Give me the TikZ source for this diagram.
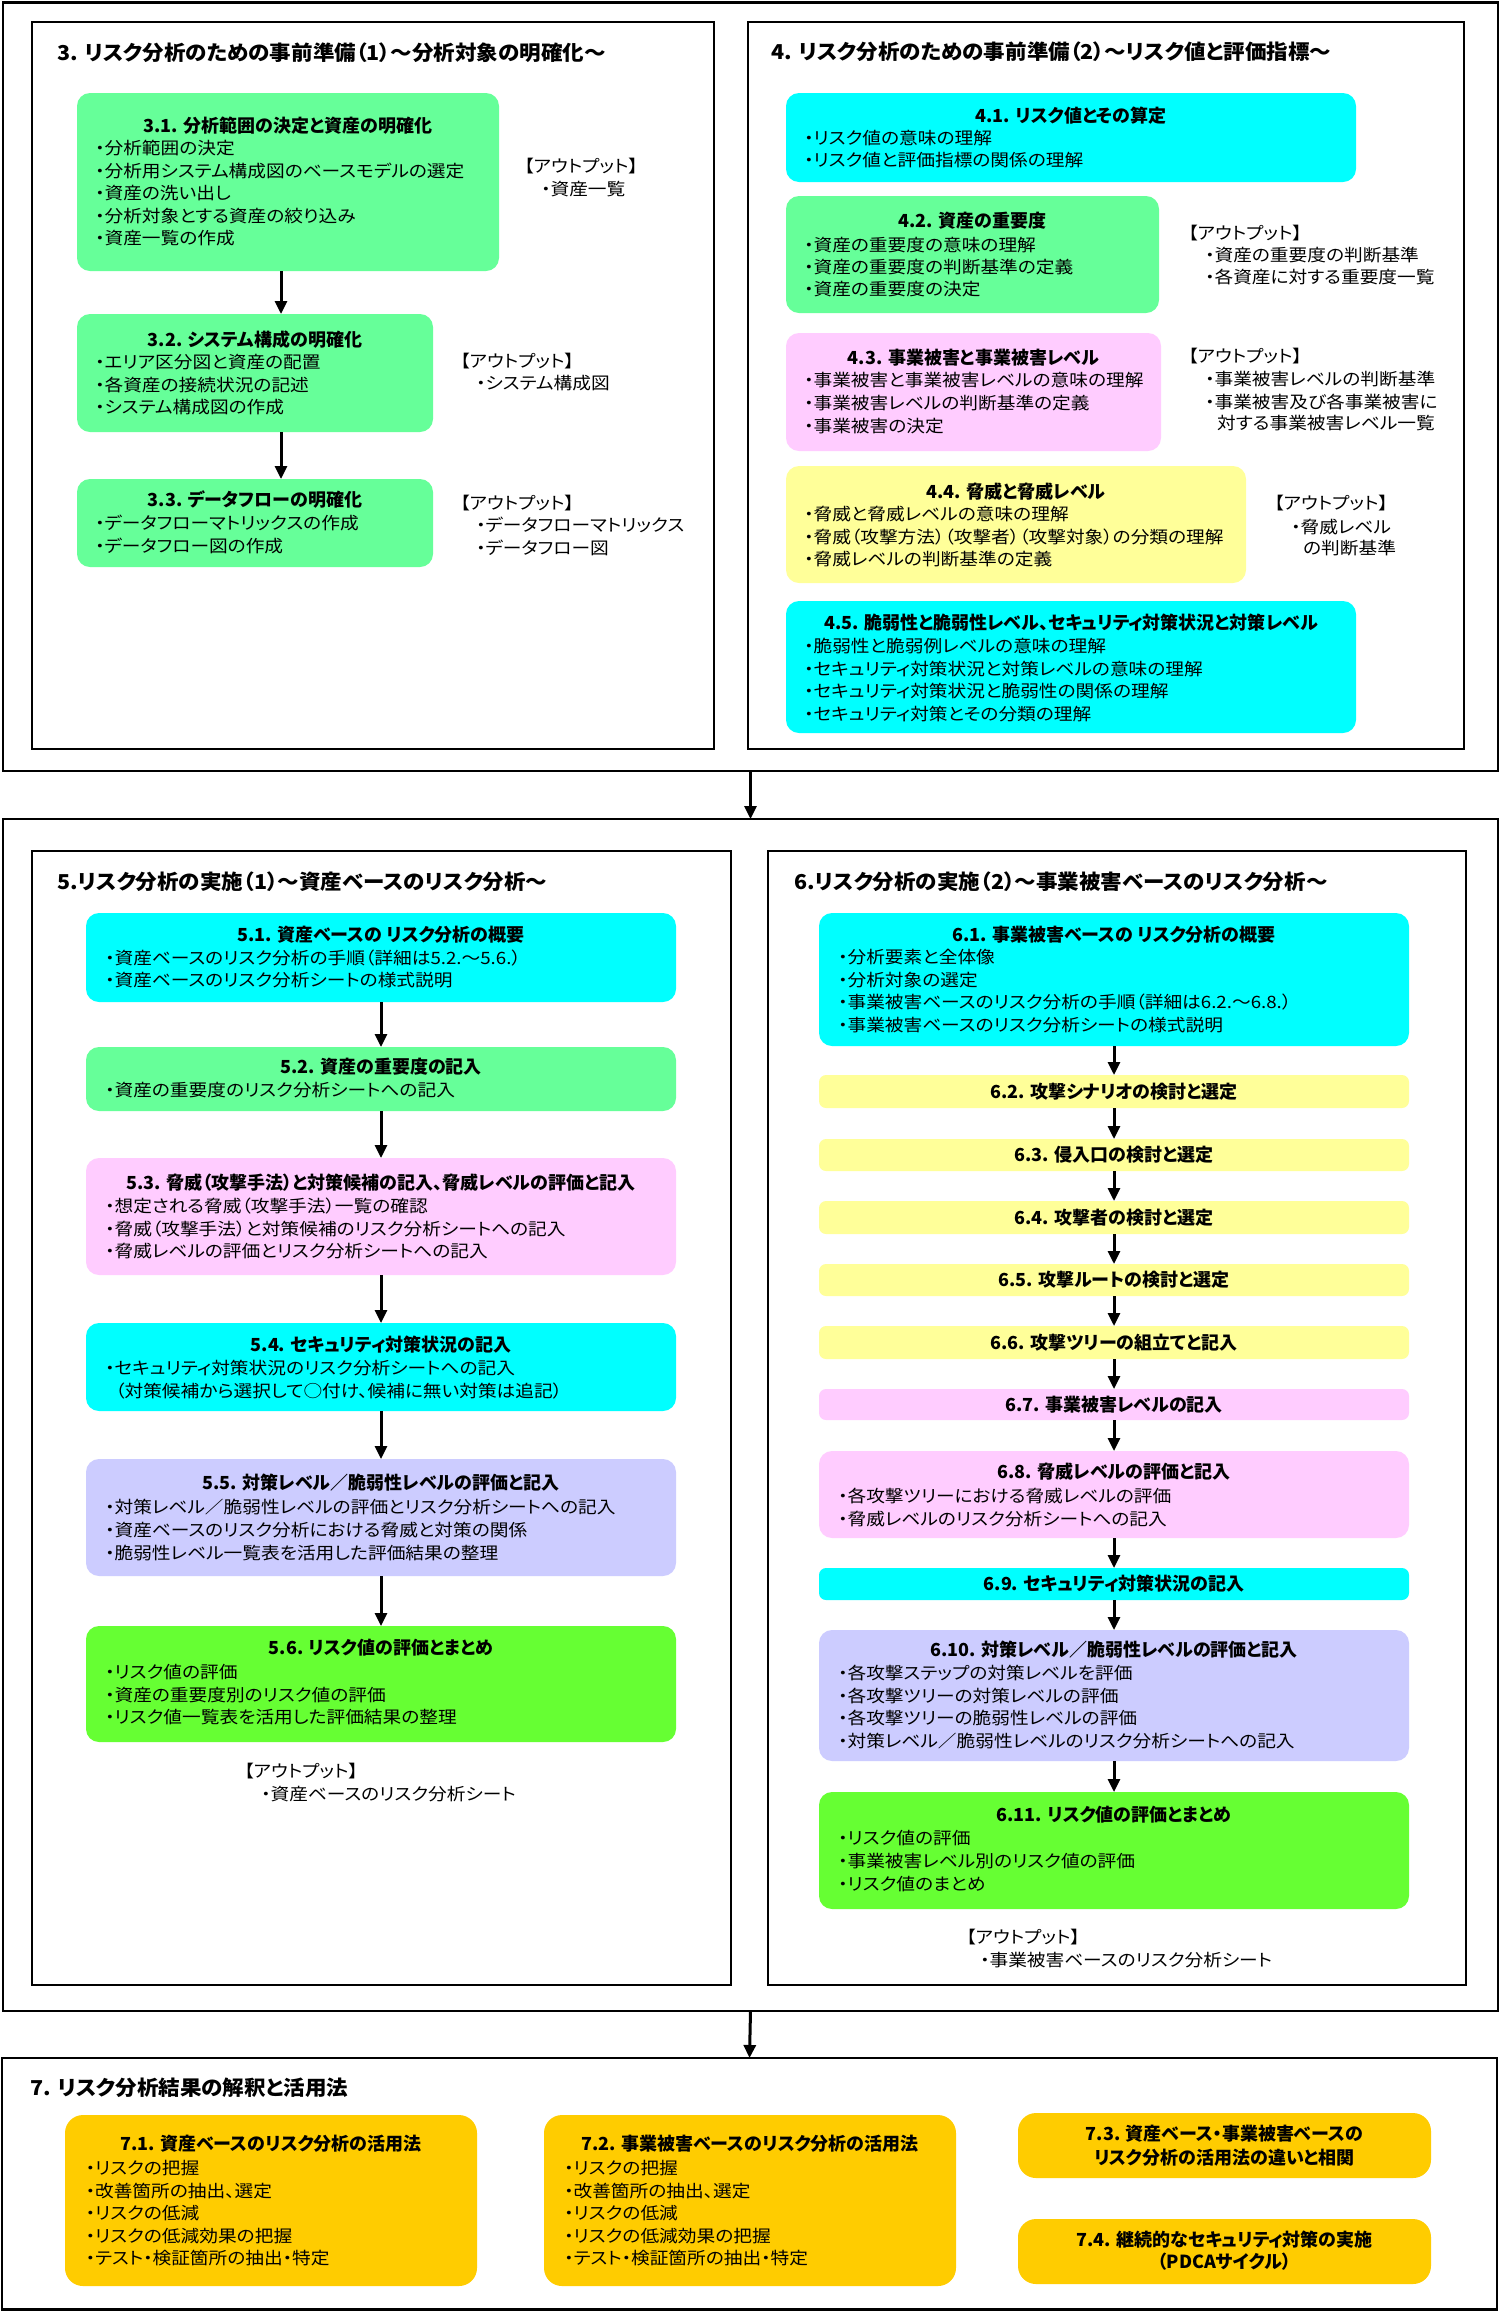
\documentclass[tikz,border=0pt]{standalone}
\usepackage{fontspec}
\setmainfont{Noto Sans CJK JP}[RawFeature=+palt]
\newfontfamily\itmfont{Noto Sans CJK JP}[RawFeature=+palt,FakeStretch=1.1]
\newfontfamily\secfont{Noto Sans CJK JP}[RawFeature=+palt,FakeStretch=1.05]
\usetikzlibrary{arrows.meta}
\definecolor{cgreen}{HTML}{66FF99}
\definecolor{ccyan}{HTML}{00FFFF}
\definecolor{cpink}{HTML}{FFCCFF}
\definecolor{cyellow}{HTML}{FFFF99}
\definecolor{clav}{HTML}{CCCCFF}
\definecolor{cbgreen}{HTML}{66FF33}
\definecolor{corange}{HTML}{FFCC00}
\tikzset{
  frm/.style={draw=black, line width=2pt, inner sep=0pt, outer sep=0pt},
  ofrm/.style={frm, line width=2.5pt},
  boxs/.style={draw=none, rounded corners=13pt, inner sep=0pt, outer sep=0pt},
  smallbox/.style={rounded corners=7pt},
  bigbox/.style={rounded corners=18pt},
  itm/.style={font=\itmfont\fontsize{17}{20}\selectfont, anchor=west, inner sep=0pt, text height=15pt, text depth=2pt},
  ttl/.style={font=\fontsize{18}{21}\selectfont\bfseries, anchor=center, inner sep=0pt, text height=15.8pt, text depth=2.2pt},
  sttl/.style={font=\secfont\fontsize{20.5}{24}\selectfont\bfseries, anchor=west, inner sep=0pt, text height=18pt, text depth=2.5pt},
  arr/.style={line width=3pt, -{Triangle[length=13pt,width=12pt]}}
}
\newcommand\mkbox[7]{\node[boxs,#7,fill=#6,minimum width={#4pt-#2pt},minimum height={#5pt-#3pt}] (#1) at ({(#2+#4)/2},{(#3+#5)/2}) {};}
\newcommand\mkframe[6]{\node[#6,minimum width={#4pt-#2pt},minimum height={#5pt-#3pt}] (#1) at ({(#2+#4)/2},{(#3+#5)/2}) {};}
\newcommand\mklines[5]{\foreach \tx [count=\k from 0] in {#5}{\node[itm] (#1\k) at (#2,{#3+\k*#4}) {\tx};}}
\begin{document}
\begin{tikzpicture}[x=1pt,y=-1pt]
\fill[white] (0,0) rectangle (1501,2311);
\useasboundingbox (0,0) rectangle (1501,2311);

% outer frames
\mkframe{fr1}{3}{2.5}{1498}{771}{ofrm}
\mkframe{fr2}{3}{819}{1498}{2011}{ofrm}
\mkframe{fr3}{2}{2058}{1497}{2309.5}{ofrm}
\draw[arr] (fr1.south) -- (fr2.north);
\draw[arr] (fr2.south) -- (fr3.north);

% section frames
\mkframe{sec3}{32}{22}{714}{749}{frm}
\mkframe{sec4}{748}{22}{1464}{749}{frm}
\mkframe{sec5}{32}{851}{731}{1985}{frm}
\mkframe{sec6}{768}{851}{1466}{1985}{frm}

% ---------- section 3
\node[sttl] (st3) at (57,53) {3. リスク分析のための事前準備（1）～分析対象の明確化～};
\mkbox{b31}{77}{93}{499}{271}{cgreen}{}
\mkbox{b32}{77}{314}{433}{432}{cgreen}{}
\mkbox{b33}{77}{479}{433}{567}{cgreen}{}
\node[ttl] (t31) at (288,126) {3.1. 分析範囲の決定と資産の明確化};
\mklines{i31-}{95}{148}{22.5}{・分析範囲の決定,・分析用システム構成図のベースモデルの選定,・資産の洗い出し,・分析対象とする資産の絞り込み,・資産一覧の作成}
\node[ttl] (t32) at (255,340) {3.2. システム構成の明確化};
\mklines{i32-}{95}{362}{22.5}{・エリア区分図と資産の配置,・各資産の接続状況の記述,・システム構成図の作成}
\node[ttl] (t33) at (255,500) {3.3. データフローの明確化};
\mklines{i33-}{95}{523}{22.5}{・データフローマトリックスの作成,・データフロー図の作成}
\node[itm] (o31a) at (524,166) {【アウトプット】};
\node[itm] (o31b) at (541,189) {・資産一覧};
\node[itm] (o32a) at (460,361) {【アウトプット】};
\node[itm] (o32b) at (476,383) {・システム構成図};
\node[itm] (o33a) at (460,503) {【アウトプット】};
\node[itm] (o33b) at (476,525) {・データフローマトリックス};
\node[itm] (o33c) at (476,548) {・データフロー図};
\coordinate (ax3) at (281,0);
\draw[arr] (b31.south -| ax3) -- (b32.north -| ax3);
\draw[arr] (b32.south -| ax3) -- (b33.north -| ax3);

% ---------- section 4
\node[sttl] (st4) at (771,52) {4. リスク分析のための事前準備（2）～リスク値と評価指標～};
\mkbox{b41}{786}{93}{1356}{182}{ccyan}{}
\mkbox{b42}{786}{196}{1159}{313}{cgreen}{}
\mkbox{b43}{786}{333}{1161}{451}{cpink}{}
\mkbox{b44}{786}{466}{1246}{583}{cyellow}{}
\mkbox{b45}{786}{601}{1356}{733}{ccyan}{}
\node[ttl] (t41) at (1071,116) {4.1. リスク値とその算定};
\mklines{i41-}{804}{138}{22}{・リスク値の意味の理解,・リスク値と評価指標の関係の理解}
\node[ttl] (t42) at (972.5,221) {4.2. 資産の重要度};
\mklines{i42-}{804}{245}{22}{・資産の重要度の意味の理解,・資産の重要度の判断基準の定義,・資産の重要度の決定}
\node[ttl] (t43) at (973.5,358) {4.3. 事業被害と事業被害レベル};
\mklines{i43-}{804}{380}{23}{・事業被害と事業被害レベルの意味の理解,・事業被害レベルの判断基準の定義,・事業被害の決定}
\node[ttl] (t44) at (1016,492) {4.4. 脅威と脅威レベル};
\mklines{i44-}{804}{514}{22.5}{・脅威と脅威レベルの意味の理解,・脅威（攻撃方法）（攻撃者）（攻撃対象）の分類の理解,・脅威レベルの判断基準の定義}
\node[ttl] (t45) at (1071,623) {4.5. 脆弱性と脆弱性レベル、セキュリティ対策状況と対策レベル};
\mklines{i45-}{804}{646}{22.5}{・脆弱性と脆弱例レベルの意味の理解,・セキュリティ対策状況と対策レベルの意味の理解,・セキュリティ対策状況と脆弱性の関係の理解,・セキュリティ対策とその分類の理解}
\node[itm] (o42a) at (1188,233) {【アウトプット】};
\node[itm] (o42b) at (1205,255) {・資産の重要度の判断基準};
\node[itm] (o42c) at (1205,277) {・各資産に対する重要度一覧};
\node[itm] (o43a) at (1188,356) {【アウトプット】};
\node[itm] (o43b) at (1205,379) {・事業被害レベルの判断基準};
\node[itm] (o43c) at (1205,402) {・事業被害及び各事業被害に};
\node[itm] (o43d) at (1217,423) {対する事業被害レベル一覧};
\node[itm] (o44a) at (1274,503) {【アウトプット】};
\node[itm] (o44b) at (1291,527) {・脅威レベル};
\node[itm] (o44c) at (1303,548) {の判断基準};

% ---------- section 5
\node[sttl] (st5) at (57,882) {5.リスク分析の実施（1）～資産ベースのリスク分析～};
\mkbox{b51}{86}{913}{676}{1002}{ccyan}{}
\mkbox{b52}{86}{1047}{676}{1111}{cgreen}{}
\mkbox{b53}{86}{1158}{676}{1275}{cpink}{}
\mkbox{b54}{86}{1323}{676}{1411}{ccyan}{}
\mkbox{b55}{86}{1459}{676}{1576}{clav}{}
\mkbox{b56}{86}{1626}{676}{1742}{cbgreen}{}
\node[ttl] (t51) at (381,935) {5.1. 資産ベースの リスク分析の概要};
\mklines{i51-}{105}{958}{22}{・資産ベースのリスク分析の手順（詳細は5.2.～5.6.）,・資産ベースのリスク分析シートの様式説明}
\node[ttl] (t52) at (381,1067) {5.2. 資産の重要度の記入};
\mklines{i52-}{105}{1090}{22}{・資産の重要度のリスク分析シートへの記入}
\node[ttl] (t53) at (381,1183) {5.3. 脅威（攻撃手法）と対策候補の記入、脅威レベルの評価と記入};
\mklines{i53-}{105}{1206}{22.5}{・想定される脅威（攻撃手法）一覧の確認,・脅威（攻撃手法）と対策候補のリスク分析シートへの記入,・脅威レベルの評価とリスク分析シートへの記入}
\node[ttl] (t54) at (381,1345) {5.4. セキュリティ対策状況の記入};
\node[itm] (i54a) at (105,1368) {・セキュリティ対策状況のリスク分析シートへの記入};
\node[itm] (i54b) at (115,1390.5) {（対策候補から選択して○付け、候補に無い対策は追記）};
\node[ttl] (t55) at (381,1483) {5.5. 対策レベル／脆弱性レベルの評価と記入};
\mklines{i55-}{105}{1507}{23}{・対策レベル／脆弱性レベルの評価とリスク分析シートへの記入,・資産ベースのリスク分析における脅威と対策の関係,・脆弱性レベル一覧表を活用した評価結果の整理}
\node[ttl] (t56) at (381,1648) {5.6. リスク値の評価とまとめ};
\mklines{i56-}{105}{1672}{22.5}{・リスク値の評価,・資産の重要度別のリスク値の評価,・リスク値一覧表を活用した評価結果の整理}
\node[itm] (o5a) at (244,1771) {【アウトプット】};
\node[itm] (o5b) at (261,1794) {・資産ベースのリスク分析シート};
\draw[arr] (b51.south) -- (b52.north);
\draw[arr] (b52.south) -- (b53.north);
\draw[arr] (b53.south) -- (b54.north);
\draw[arr] (b54.south) -- (b55.north);
\draw[arr] (b55.south) -- (b56.north);

% ---------- section 6
\node[sttl] (st6) at (794,882) {6.リスク分析の実施（2）～事業被害ベースのリスク分析～};
\mkbox{b61}{819}{913}{1409}{1046}{ccyan}{}
\mkbox{b62}{819}{1075}{1409}{1108}{cyellow}{smallbox}
\mkbox{b63}{819}{1139}{1409}{1171}{cyellow}{smallbox}
\mkbox{b64}{819}{1201}{1409}{1234}{cyellow}{smallbox}
\mkbox{b65}{819}{1264}{1409}{1296}{cyellow}{smallbox}
\mkbox{b66}{819}{1326}{1409}{1359}{cyellow}{smallbox}
\mkbox{b67}{819}{1389}{1409}{1420}{cpink}{smallbox}
\mkbox{b68}{819}{1451}{1409}{1538}{cpink}{}
\mkbox{b69}{819}{1568}{1409}{1600}{ccyan}{smallbox}
\mkbox{b610}{819}{1630}{1409}{1761}{clav}{}
\mkbox{b611}{819}{1792}{1409}{1909}{cbgreen}{}
\node[ttl] (t61) at (1114,935) {6.1. 事業被害ベースの リスク分析の概要};
\mklines{i61-}{838}{957}{22.7}{・分析要素と全体像,・分析対象の選定,・事業被害ベースのリスク分析の手順（詳細は6.2.～6.8.）,・事業被害ベースのリスク分析シートの様式説明}
\node[ttl] (t62) at (1114,1092) {6.2. 攻撃シナリオの検討と選定};
\node[ttl] (t63) at (1114,1155) {6.3. 侵入口の検討と選定};
\node[ttl] (t64) at (1114,1218) {6.4. 攻撃者の検討と選定};
\node[ttl] (t65) at (1114,1280) {6.5. 攻撃ルートの検討と選定};
\node[ttl] (t66) at (1114,1343) {6.6. 攻撃ツリーの組立てと記入};
\node[ttl] (t67) at (1114,1405) {6.7. 事業被害レベルの記入};
\node[ttl] (t68) at (1114,1472) {6.8. 脅威レベルの評価と記入};
\mklines{i68-}{838}{1496}{22.5}{・各攻撃ツリーにおける脅威レベルの評価,・脅威レベルのリスク分析シートへの記入}
\node[ttl] (t69) at (1114,1584) {6.9. セキュリティ対策状況の記入};
\node[ttl] (t610) at (1114,1650) {6.10. 対策レベル／脆弱性レベルの評価と記入};
\mklines{i610-}{838}{1673}{22.5}{・各攻撃ステップの対策レベルを評価,・各攻撃ツリーの対策レベルの評価,・各攻撃ツリーの脆弱性レベルの評価,・対策レベル／脆弱性レベルのリスク分析シートへの記入}
\node[ttl] (t611) at (1114,1815) {6.11. リスク値の評価とまとめ};
\mklines{i611-}{838}{1838}{23}{・リスク値の評価,・事業被害レベル別のリスク値の評価,・リスク値のまとめ}
\node[itm] (o6a) at (966,1937) {【アウトプット】};
\node[itm] (o6b) at (980,1960) {・事業被害ベースのリスク分析シート};
\draw[arr] (b61.south) -- (b62.north);
\draw[arr] (b62.south) -- (b63.north);
\draw[arr] (b63.south) -- (b64.north);
\draw[arr] (b64.south) -- (b65.north);
\draw[arr] (b65.south) -- (b66.north);
\draw[arr] (b66.south) -- (b67.north);
\draw[arr] (b67.south) -- (b68.north);
\draw[arr] (b68.south) -- (b69.north);
\draw[arr] (b69.south) -- (b610.north);
\draw[arr] (b610.south) -- (b611.north);

% ---------- section 7
\node[sttl] (st7) at (30,2088) {7. リスク分析結果の解釈と活用法};
\mkbox{b71}{65}{2115}{477}{2286}{corange}{bigbox}
\mkbox{b72}{544}{2115}{956}{2286}{corange}{bigbox}
\mkbox{b73}{1018}{2113}{1431}{2178}{corange}{bigbox}
\mkbox{b74}{1018}{2219}{1431}{2284}{corange}{bigbox}
\node[ttl] (t71) at (271,2144) {7.1. 資産ベースのリスク分析の活用法};
\mklines{i71-}{85.5}{2168}{22.5}{・リスクの把握,・改善箇所の抽出、選定,・リスクの低減,・リスクの低減効果の把握,・テスト・検証箇所の抽出・特定}
\node[ttl] (t72) at (750,2144) {7.2. 事業被害ベースのリスク分析の活用法};
\mklines{i72-}{564}{2168}{22.5}{・リスクの把握,・改善箇所の抽出、選定,・リスクの低減,・リスクの低減効果の把握,・テスト・検証箇所の抽出・特定}
\node[ttl] (t73a) at (1224.5,2134) {7.3. 資産ベース・事業被害ベースの};
\node[ttl] (t73b) at (1224.5,2158) {リスク分析の活用法の違いと相関};
\node[ttl] (t74a) at (1224.5,2240) {7.4. 継続的なセキュリティ対策の実施};
\node[ttl] (t74b) at (1224.5,2262) {（PDCAサイクル）};
\end{tikzpicture}
\end{document}
